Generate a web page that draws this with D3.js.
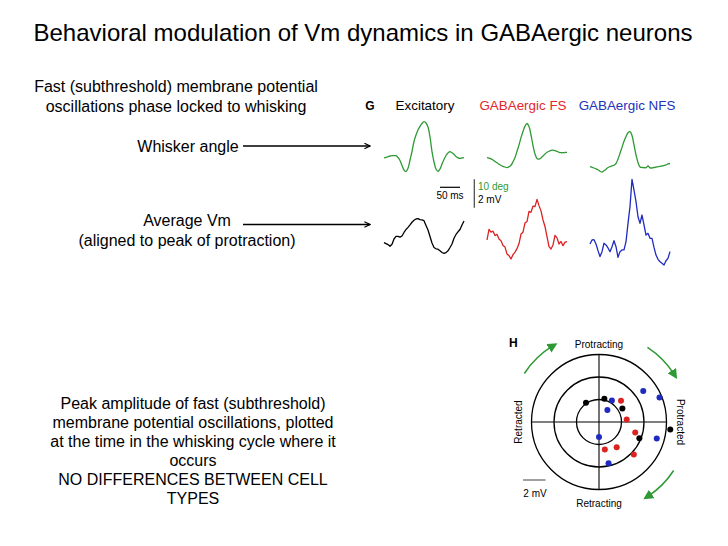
<!DOCTYPE html>
<html lang="en">
<head>
<meta charset="UTF-8">
<title>Behavioral modulation of Vm dynamics in GABAergic neurons</title>
<style>
  body { margin: 0; background: #fff; font-family: "Liberation Sans", Arial, sans-serif; }
  svg { display: block; }
</style>
</head>
<body>
<div id="chart"></div>
<script src="https://d3js.org/d3.v7.min.js"></script>
<script>
// ---- data ----
const cellTypes = ["Excitatory", "GABAergic FS", "GABAergic NFS"];
const timeMs = d3.range(-100, 101, 5); // sampling grid, aligned to peak protraction

// whisker angle (deg), averaged around peak of protraction
const whiskerExc = [-0.28, -0.11, 0.11, 0.35, 0.46, 0.46, 0.46, -0.18, -1.23, -3.0, -4.58, -5.11, -3.98, -1.06, 1.94, 5.46, 7.75, 9.51, 10.81, 11.8, 12.43, 11.97, 10.56, 7.04, 1.87, -1.76, -4.23, -5.11, -4.23, -2.46, -0.88, 0.53, 1.41, 1.87, 1.48, 0.95, 0.18, -0.28, -0.46, -0.35, -0.25];
const whiskerFS = [-0.18, -0.42, -0.67, -1.06, -1.58, -2.04, -2.54, -3.0, -3.27, -3.52, -3.73, -3.45, -2.92, -1.69, -0.18, 2.01, 4.23, 6.8, 8.98, 10.85, 11.8, 10.74, 7.75, 4.05, 1.06, -0.53, -0.77, -0.32, 0.35, 1.06, 1.65, 2.01, 2.32, 2.39, 2.22, 2.01, 1.65, 1.51, 1.51, 1.58, 1.65];
const whiskerNFS = [-3.42, -3.63, -3.87, -4.15, -4.51, -5.0, -5.35, -4.86, -4.3, -3.7, -3.38, -3.13, -2.92, -2.29, -0.7, 1.3, 3.38, 5.53, 7.22, 8.56, 8.91, 7.57, 4.23, 0.7, -1.94, -3.52, -3.7, -3.77, -3.77, -3.17, -3.8, -3.87, -3.7, -3.56, -3.42, -3.27, -3.17, -2.99, -2.78, -2.46, -2.29];

// average Vm (mV)
const vmExc = [-0.18, -0.25, -0.32, -0.44, -0.30, 0.07, 0.25, 0.26, 0.20, 0.28, 0.53, 0.74, 0.89, 1.06, 1.25, 1.39, 1.48, 1.51, 1.44, 1.41, 1.36, 1.02, 0.70, 0.25, -0.21, -0.53, -0.62, -0.65, -0.76, -0.88, -0.94, -0.89, -0.76, -0.53, -0.28, 0.12, 0.39, 0.58, 0.74, 1.06, 1.34];
const vmFS = [0.0, 0.75, 0.55, 0.62, 0.31, 0.40, 0.07, -0.05, -0.38, -0.50, -0.99, -1.10, -1.34, -1.03, -0.85, -0.61, -0.25, 0.42, 0.55, 1.20, 1.30, 2.02, 1.95, 2.39, 2.35, 2.86, 2.42, 2.05, 1.41, 0.95, 0.23, -0.47, -0.63, -0.35, 0.33, 0.15, -0.28, -0.10, -0.40, -0.15, -0.12];
const vmNFS = [-0.28, 0.0, 0.02, -0.28, -0.75, -1.17, -0.82, -0.23, -0.35, -0.56, -0.82, -0.47, -0.05, -0.47, -1.22, -0.82, -0.70, -0.70, -0.12, 1.17, 2.35, 4.27, 3.52, 2.70, 1.64, 1.17, 1.76, 1.06, 0.35, 0.47, 0.12, 0.12, -0.52, -1.06, -1.36, -1.53, -1.64, -1.76, -1.46, -1.29, -0.82];

// peak amplitude (mV) and phase (deg, clockwise from protracting)
const excAmp = [2.07, 2.12, 2.4, 3.87, 6.37];
const excPhase = [326, 13, 60, 112, 96];
const fsAmp = [2.72, 2.47, 3.35, 2.74, 2.49, 4.23];
const fsPhase = [46, 85, 106, 145, 168, 133];
const nfsAmp = [2.22, 1.3, 4.8, 5.8, 1.33, 5.34, 3.77];
const nfsPhase = [31, 35, 55, 68, 180, 106, 167];
const ringLevels = [2, 4, 6];

// ---- layout ----
const W = 728, H = 546;
const green = "#2f9a35", red = "#dd2222", blue = "#1f2bc0";
const colX0 = [424, 527, 630];
const headerX = [425, 523, 627];
const headerColor = ["#000", "#e3262b", "#2233bb"];
const polar = { cx: 599, cy: 422, r: 67.5 };

const svg = d3.select("#chart").append("svg")
  .attr("width", W).attr("height", H)
  .style("font-family", "'Liberation Sans', Arial, sans-serif");

svg.append("rect").attr("width", W).attr("height", H).attr("fill", "#fff");

const defs = svg.append("defs");
defs.append("marker")
  .attr("id", "chev").attr("viewBox", "0 0 10 10").attr("refX", 9).attr("refY", 5)
  .attr("markerWidth", 7).attr("markerHeight", 7).attr("markerUnits", "userSpaceOnUse")
  .attr("orient", "auto")
  .append("path").attr("d", "M1,1 L9,5 L1,9").attr("fill", "none").attr("stroke", "#000").attr("stroke-width", 1.6);
defs.append("marker")
  .attr("id", "garrow").attr("viewBox", "0 0 10 10").attr("refX", 5).attr("refY", 5)
  .attr("markerWidth", 10).attr("markerHeight", 10).attr("markerUnits", "userSpaceOnUse")
  .attr("orient", "auto")
  .append("path").attr("d", "M0,0 L10,5 L0,10 Z").attr("fill", green);

// title
svg.append("text").attr("x", 363).attr("y", 41).attr("text-anchor", "middle")
  .style("font-size", "24px").text("Behavioral modulation of Vm dynamics in GABAergic neurons");

// left-hand text
function lines(list, x, y0, dy, size) {
  list.forEach((s, i) => {
    svg.append("text").attr("x", x).attr("y", y0 + i * dy).attr("text-anchor", "middle")
      .style("font-size", size + "px").text(s);
  });
}
lines(["Fast (subthreshold) membrane potential", "oscillations phase locked to whisking"], 176, 92, 20, 16);
lines(["Whisker angle"], 188, 152, 20, 16);
lines(["Average Vm", "(aligned to peak of protraction)"], 187, 226, 19.5, 16);
lines(["Peak amplitude of fast (subthreshold)", "membrane potential oscillations, plotted",
  "at the time in the whisking cycle where it", "occurs", "NO DIFFERENCES BETWEEN CELL", "TYPES"],
  193, 409, 19, 16);

// pointer lines
[146, 224.5].forEach(y => {
  svg.append("line").attr("x1", 243).attr("x2", 370).attr("y1", y).attr("y2", y)
    .attr("stroke", "#000").attr("stroke-width", 1.3).attr("marker-end", "url(#chev)");
});

// panel G
svg.append("text").attr("x", 370).attr("y", 110).attr("text-anchor", "middle")
  .style("font-size", "12px").style("font-weight", "bold").text("G");
cellTypes.forEach((c, i) => {
  svg.append("text").attr("x", headerX[i]).attr("y", 110).attr("text-anchor", "middle")
    .style("font-size", "13.4px").attr("fill", headerColor[i]).text(c);
});

const yWhisk = d3.scaleLinear().domain([0, 10]).range([157, 157 - 28.4]);
const yVm = d3.scaleLinear().domain([0, 2]).range([240, 240 - 28.4]);
const xCols = colX0.map(x0 => d3.scaleLinear().domain([-100, 100]).range([x0 - 40, x0 + 40]));

function trace(values, x, y, color, curve) {
  svg.append("path").datum(values)
    .attr("d", d3.line().x((d, i) => x(timeMs[i])).y(d => y(d)).curve(curve))
    .attr("fill", "none").attr("stroke", color).attr("stroke-width", 1.3)
    .attr("stroke-linejoin", "round");
}
[whiskerExc, whiskerFS, whiskerNFS].forEach((v, i) => trace(v, xCols[i], yWhisk, green, d3.curveCatmullRom));
trace(vmExc, xCols[0], yVm, "#000", d3.curveLinear);
trace(vmFS, xCols[1], yVm, red, d3.curveLinear);
trace(vmNFS, xCols[2], yVm, blue, d3.curveLinear);

// scale bars: 50 ms, 10 deg / 2 mV
const sbX = d3.scaleLinear().domain([0, 50]).range([440, 460]);
svg.append("line").attr("x1", sbX(0)).attr("x2", sbX(50)).attr("y1", 187.3).attr("y2", 187.3)
  .attr("stroke", "#000").attr("stroke-width", 1.2);
svg.append("text").attr("x", sbX(25)).attr("y", 199).attr("text-anchor", "middle")
  .style("font-size", "10px").text("50 ms");
const sbY = d3.scaleLinear().domain([0, 10]).range([207.7, 179.3]);
svg.append("line").attr("x1", 474.3).attr("x2", 474.3).attr("y1", sbY(0)).attr("y2", sbY(10))
  .attr("stroke", "#444").attr("stroke-width", 1.2);
svg.append("text").attr("x", 478).attr("y", 190).style("font-size", "10px").attr("fill", green).text("10 deg");
svg.append("text").attr("x", 478).attr("y", 203).style("font-size", "10px").text("2 mV");

// panel H: polar plot
const rScale = d3.scaleLinear().domain([0, 6]).range([0, polar.r]);
const pg = svg.append("g").attr("transform", `translate(${polar.cx},${polar.cy})`);
pg.selectAll("circle.ring").data(ringLevels).join("circle")
  .attr("class", "ring").attr("r", d => rScale(d))
  .attr("fill", "none").attr("stroke", "#000").attr("stroke-width", 1.3);
pg.append("line").attr("x1", -polar.r).attr("x2", polar.r).attr("stroke", "#000").attr("stroke-width", 1.1);
pg.append("line").attr("y1", -polar.r).attr("y2", polar.r).attr("stroke", "#000").attr("stroke-width", 1.1);

function dots(amps, phases, color) {
  pg.selectAll(null).data(amps).join("circle")
    .attr("cx", (a, i) => rScale(a) * Math.sin(phases[i] * Math.PI / 180))
    .attr("cy", (a, i) => -rScale(a) * Math.cos(phases[i] * Math.PI / 180))
    .attr("r", 3).attr("fill", color);
}
dots(nfsAmp, nfsPhase, blue);
dots(fsAmp, fsPhase, red);
dots(excAmp, excPhase, "#000");

// clockwise arrows around the cycle
[[-57, -31], [33, 58], [123, 147]].forEach(([a0, a1]) => {
  const p = d3.path();
  const rr = 89;
  const t0 = (a0 - 90) * Math.PI / 180, t1 = (a1 - 90) * Math.PI / 180;
  p.moveTo(rr * Math.cos(t0), rr * Math.sin(t0));
  p.arc(0, 0, rr, t0, t1);
  pg.append("path").attr("d", p.toString()).attr("fill", "none")
    .attr("stroke", green).attr("stroke-width", 1.5).attr("marker-end", "url(#garrow)");
});

svg.append("text").attr("x", 509).attr("y", 347).style("font-size", "12px").style("font-weight", "bold").text("H");
svg.append("text").attr("x", polar.cx).attr("y", 348).attr("text-anchor", "middle").style("font-size", "10px").text("Protracting");
svg.append("text").attr("x", polar.cx).attr("y", 507).attr("text-anchor", "middle").style("font-size", "10px").text("Retracting");
svg.append("text").attr("transform", `translate(522,${polar.cy}) rotate(-90)`).attr("text-anchor", "middle")
  .style("font-size", "10px").text("Retracted");
svg.append("text").attr("transform", `translate(677,${polar.cy}) rotate(90)`).attr("text-anchor", "middle")
  .style("font-size", "10px").text("Protracted");

// 2 mV scale bar
svg.append("line").attr("x1", 523).attr("x2", 523 + rScale(2)).attr("y1", 480).attr("y2", 480)
  .attr("stroke", "#555").attr("stroke-width", 1.1);
svg.append("text").attr("x", 535).attr("y", 497).attr("text-anchor", "middle").style("font-size", "10px").text("2 mV");
</script>
</body>
</html>
